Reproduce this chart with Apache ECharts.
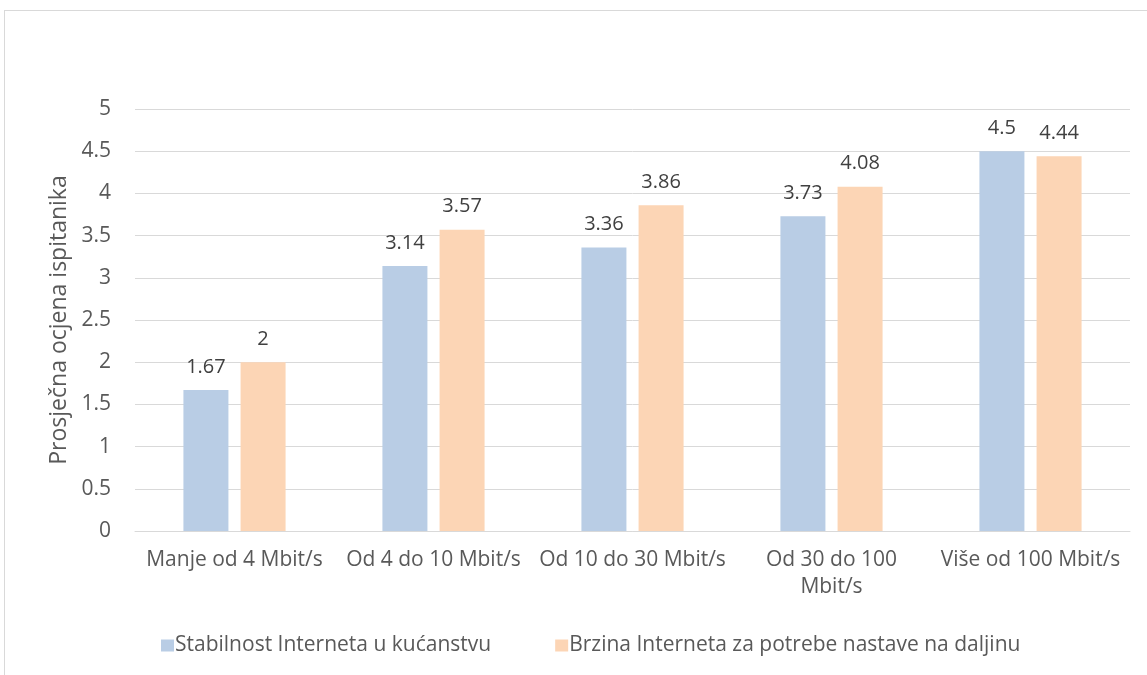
<!DOCTYPE html>
<html><head><meta charset="utf-8">
<script src="https://cdn.jsdelivr.net/npm/echarts@6/dist/echarts.min.js"></script>
<style>html,body{margin:0;padding:0;background:#fff}#c{width:1147px;height:675px}
#frame{position:absolute;left:4px;top:10px;width:1160px;height:700px;border:1px solid #d9d9d9;pointer-events:none}</style>
</head><body><div id="c"></div><div id="frame"></div>
<script>
const categories = ['Manje od 4 Mbit/s','Od 4 do 10 Mbit/s','Od 10 do 30 Mbit/s','Od 30 do 100 Mbit/s','Više od 100 Mbit/s'];
const seriesNames = ['Stabilnost Interneta u kućanstvu','Brzina Interneta za potrebe nastave na daljinu'];
const stabilnost = [1.67, 3.14, 3.36, 3.73, 4.5];
const brzina = [2, 3.57, 3.86, 4.08, 4.44];
const yTitle = 'Prosječna ocjena ispitanika';
const FONT = '"Open Sans", Lato, sans-serif';
const txt = '#595959';
const ctx = document.createElement('canvas').getContext('2d');
ctx.font = '21px "Open Sans"';
function wrapWords(s, maxW){
  const words = s.split(' '); const lines = []; let cur = '';
  for (const w of words){
    const t = cur ? cur + ' ' + w : w;
    if (cur && ctx.measureText(t).width > maxW){ lines.push(cur); cur = w; } else cur = t;
  }
  lines.push(cur); return lines.join('\n');
}
const chart = echarts.init(document.getElementById('c'));
const lbl = {show:true, position:'top', distance:13, color:'#404040', fontSize:20, fontFamily:FONT};
chart.setOption({
  animation:false,
  textStyle:{fontFamily:FONT},
  grid:{left:135, right:17, top:109, bottom:144, containLabel:false},
  legend:{top:630, left:156, itemWidth:13, itemHeight:12, itemGap:64, icon:'rect',
    textStyle:{color:txt, fontSize:21, fontFamily:FONT, padding:[0,0,0,-4]}},
  xAxis:{type:'category', data:categories,
    axisLine:{lineStyle:{color:'#d9d9d9', width:1}}, axisTick:{show:false},
    axisLabel:{color:txt, fontSize:21, fontFamily:FONT, margin:16, lineHeight:27, interval:0,
      formatter: v => wrapWords(v, 192)}},
  yAxis:{type:'value', min:0, max:5, interval:0.5,
    name:yTitle, nameLocation:'middle', nameGap:62, nameTextStyle:{color:txt, fontSize:23, fontFamily:FONT},
    axisLine:{show:false}, axisTick:{show:false},
    axisLabel:{color:txt, fontSize:21, fontFamily:FONT, margin:24},
    splitLine:{lineStyle:{color:'#d9d9d9', width:1}}},
  series:[
    {name:seriesNames[0], type:'bar', data:stabilnost, barWidth:45, barGap:'27%', itemStyle:{color:'#B9CDE5'}, label:lbl},
    {name:seriesNames[1], type:'bar', data:brzina, barWidth:45, itemStyle:{color:'#FCD5B5'}, label:lbl}
  ]
});
</script></body></html>
